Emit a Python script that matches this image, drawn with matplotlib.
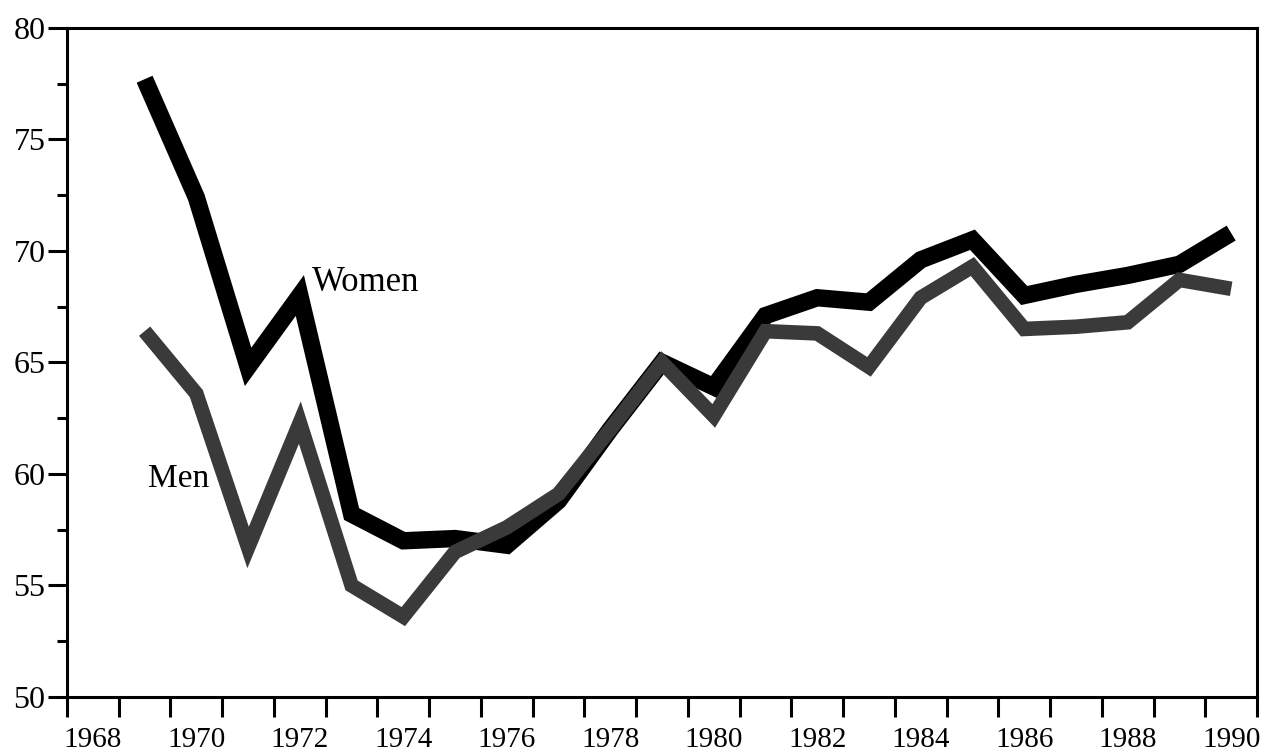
import matplotlib.pyplot as plt
from matplotlib.ticker import FixedLocator, NullFormatter
import numpy as np

# Datos
anios = list(range(1969, 1991))
mujeres = [77.7, 72.4, 64.8, 68.0, 58.2, 57.0, 57.1, 56.8, 58.8, 62.0, 65.0,
           63.9, 67.1, 67.9, 67.7, 69.6, 70.5, 68.0, 68.5, 68.9, 69.4, 70.8]
hombres = [66.4, 63.6, 56.7, 62.3, 55.0, 53.6, 56.5, 57.6, 59.1, 62.0, 65.0,
           62.6, 66.4, 66.3, 64.8, 67.9, 69.3, 66.5, 66.6, 66.8, 68.7, 68.3]
etiquetas_x = [str(a) for a in range(1968, 1991, 2)]

plt.rcParams['font.family'] = ['Liberation Serif', 'DejaVu Serif']

fig = plt.figure(figsize=(12.64, 7.55), dpi=100)
ax = fig.add_axes([0.053, 0.077, 0.9415, 0.886])

# Lineas
ax.plot(anios, mujeres, color='black', linewidth=12.5,
        solid_joinstyle='miter', solid_capstyle='butt', zorder=2)
ax.plot(anios, hombres, color='#3a3a3a', linewidth=10.5,
        solid_joinstyle='miter', solid_capstyle='butt', zorder=3)

# Etiquetas de las series
ax.text(1972.24, 68.6, 'Women', fontsize=25, ha='left', va='center')
ax.text(1969.07, 59.8, 'Men', fontsize=24, ha='left', va='center')

# Ejes
ax.set_xlim(1967.5, 1990.5)
ax.set_ylim(50, 80)

bordes = np.arange(1967.5, 1991, 1.0)
ax.xaxis.set_major_locator(FixedLocator(bordes))
ax.xaxis.set_major_formatter(NullFormatter())
ax.xaxis.set_minor_locator(FixedLocator(range(1968, 1991, 2)))
ax.set_xticklabels(etiquetas_x, minor=True, fontsize=21)

ax.set_yticks(range(50, 81, 5))
ax.yaxis.set_minor_locator(FixedLocator(np.arange(52.5, 80, 5)))

ax.tick_params(axis='x', which='major', direction='out', length=14.5,
               width=2.2)
ax.tick_params(axis='x', which='minor', length=0, pad=22)
ax.tick_params(axis='y', which='major', direction='out', length=13.5,
               width=2.2, labelsize=23, pad=2)
ax.tick_params(axis='y', which='minor', direction='out', length=7,
               width=2.2)

for s in ax.spines.values():
    s.set_linewidth(2.2)

fig.savefig('out.png', dpi=100)
